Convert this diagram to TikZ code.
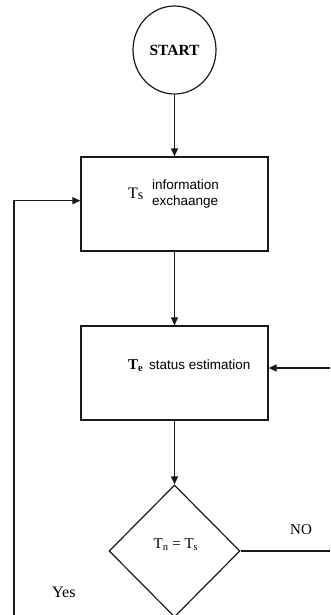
\documentclass[tikz,border=0pt]{standalone}
\usepackage{fontspec}
\setmainfont{Liberation Serif}
\newfontfamily\arialfont{Liberation Sans}
\usetikzlibrary{shapes.geometric,arrows.meta}

\tikzset{
  flow/.style={line width=1.2pt, draw=black!90},
  arr/.style={flow, -{Triangle[length=8pt,width=7pt]}},
  procbox/.style={flow, rectangle, minimum width=187pt, minimum height=94pt, inner sep=0pt},
  termnode/.style={flow, ellipse, minimum width=83pt, minimum height=88pt, inner sep=0pt,
    font=\fontsize{15.5}{17}\selectfont\bfseries},
  decision/.style={flow, diamond, aspect=1, minimum width=131pt, minimum height=132pt, inner sep=0pt},
  sansnote/.style={font=\arialfont\fontsize{13.5}{15.5}\selectfont, inner sep=0pt, align=left},
  serifnote/.style={font=\fontsize{15}{17}\selectfont, inner sep=0pt},
}

\begin{document}
\begin{tikzpicture}[x=1pt, y=-1pt]
  \useasboundingbox (0,0) rectangle (330,615);
  \clip (0,0) rectangle (330,615);

  % main blocks
  \node[termnode] (start) at (174.5,50) {START};
  \node[procbox] (info) at (174.5,204) {};
  \node[procbox] (status) at (174.5,373) {};
  \node[decision] (check) at (174.5,551) {};

  % texts inside the blocks
  \node[serifnote, anchor=base west] (tsym) at (128,198)
    {\fontsize{16}{18}\selectfont T\raisebox{-1.5pt}{\fontsize{14}{16}\selectfont s}};
  \node[sansnote, anchor=north west] (infotext) at (152,180)
    {information\\exchaange};
  \node[serifnote, anchor=base west] (tesym) at (128,369)
    {\bfseries T\textsubscript{e}};
  \node[sansnote, anchor=base west] (statustext) at (149,369) {status estimation};
  \node[serifnote, anchor=base] (cond) at (176,548)
    {T\textsubscript{n} = T\textsubscript{s}};

  % branch labels
  \node[serifnote, anchor=base west] (nolabel) at (290,534) {NO};
  \node[font=\fontsize{16}{18}\selectfont, inner sep=0pt, anchor=base west] (yeslabel) at (52,597) {Yes};

  % open ends of the loops
  \coordinate (yesfoot) at (14,615);
  \coordinate (noend) at (330,551);
  \coordinate (backin) at (330,368);

  % connectors
  \draw[arr] (start.south) -- (info.north);
  \draw[arr] (info.south) -- (status.north);
  \draw[arr] (status.south) -- (check.north);
  \draw[arr] (yesfoot) |- ([yshift=3.3pt]info.west);
  \draw[arr] (backin) -- (status.east |- backin);
  \draw[flow] (check.east) -- (noend);
\end{tikzpicture}
\end{document}
